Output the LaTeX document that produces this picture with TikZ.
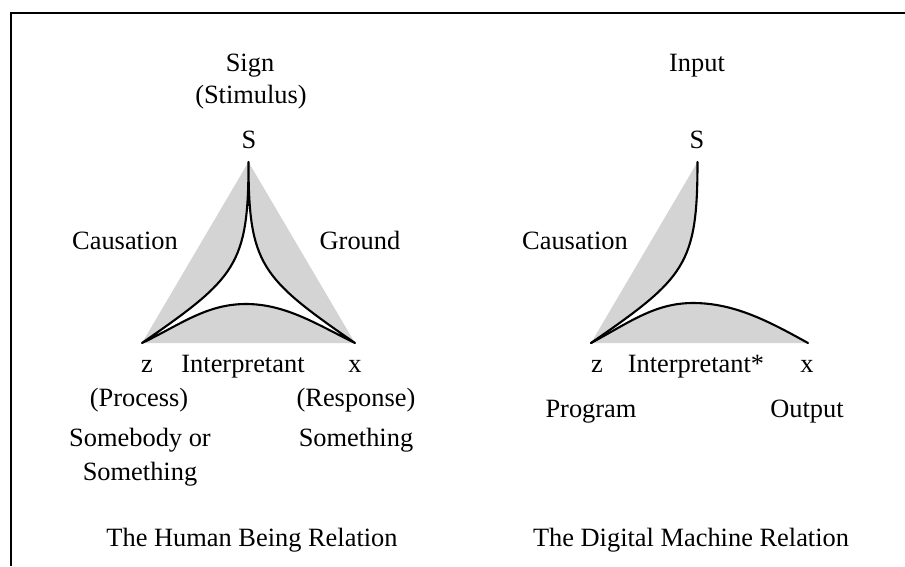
\documentclass[tikz,border=0pt]{standalone}
\usepackage{fontspec}
\setmainfont{Liberation Serif}
\begin{document}
\begin{tikzpicture}[x=1pt,y=-1pt,
  lbl/.style={anchor=base,inner sep=0pt,font=\fontsize{26.4}{32}\selectfont},
  curve/.style={line width=2.1pt,line join=round,line cap=round},
  shade/.style={fill=black!17},
  frame/.style={line width=2pt}]
\useasboundingbox (0,0) rectangle (905,566);
\fill[white] (0,0) rectangle (905,566);
% frame
\coordinate (fb) at (11,566);
\coordinate (fc) at (11,12.5);
\coordinate (fr) at (905,12.5);
\draw[frame] (fb) -- (fc) -- (fr);

% ---------- left figure ----------
\coordinate (S) at (248.5,162);
\coordinate (Z) at (142,343);
\coordinate (X) at (355,343);
\coordinate (P) at (246,304);
\fill[shade] (Z) -- (S) -- (X) -- cycle;
\draw[curve,fill=white] (S) .. controls (248.5,265) and (236,278) .. (Z)
  .. controls (180,325) and (206,304) .. (P)
  .. controls (286,304) and (318,325) .. (X)
  .. controls (261,278) and (248.5,265) .. (S) -- cycle;

% ---------- right figure ----------
\coordinate (S2) at (697.5,162);
\coordinate (Z2) at (591,343);
\coordinate (P2) at (693,303);
\coordinate (E2) at (808,343);
\fill[shade] (Z2) -- (S2) .. controls (697.5,265) and (685,278) .. (Z2) -- cycle;
\fill[shade] (Z2) .. controls (630,322) and (655,303) .. (P2)
  .. controls (735,303) and (770,322) .. (E2) -- cycle;
\draw[curve] (S2) .. controls (697.5,265) and (685,278) .. (Z2);
\draw[curve] (Z2) .. controls (630,322) and (655,303) .. (P2)
  .. controls (735,303) and (770,322) .. (E2);

% ---------- labels left ----------
\node[lbl] (sign) at (250,71) {Sign};
\node[lbl] (stim) at (251,103) {(Stimulus)};
\node[lbl] (sl) at (249,148) {S};
\node[lbl] (caus) at (125,249) {Causation};
\node[lbl] (grnd) at (360,249) {Ground};
\node[lbl] (zl) at (147,372) {z};
\node[lbl] (intl) at (243,372) {Interpretant};
\node[lbl] (xl) at (355,372) {x};
\node[lbl] (proc) at (139,406) {(Process)};
\node[lbl] (some) at (140,446) {Somebody or};
\node[lbl] (sthl) at (140,480) {Something};
\node[lbl] (resp) at (356,406) {(Response)};
\node[lbl] (sthr) at (356,446) {Something};
\node[lbl] (tl) at (252,546) {The Human Being Relation};

% ---------- labels right ----------
\node[lbl] (inp) at (697,71) {Input};
\node[lbl] (sr) at (697,148) {S};
\node[lbl] (caus2) at (575,249) {Causation};
\node[lbl] (zr) at (597,372) {z};
\node[lbl] (intr) at (696,372) {Interpretant*};
\node[lbl] (xr) at (807,372) {x};
\node[lbl] (prog) at (591,417) {Program};
\node[lbl] (outp) at (807,417) {Output};
\node[lbl] (tr) at (691,546) {The Digital Machine Relation};
\end{tikzpicture}
\end{document}
